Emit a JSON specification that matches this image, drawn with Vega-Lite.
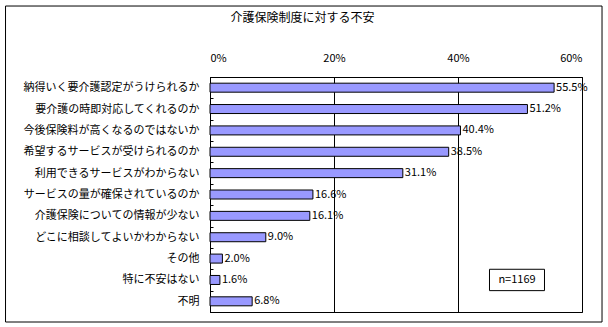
{
  "$schema": "https://vega.github.io/schema/vega-lite/v6.json",
  "width": 372,
  "height": 235,
  "padding": {"left": 5, "top": 5, "right": 6, "bottom": 6},
  "background": "white",
  "config": {
    "font": "Noto Sans CJK JP",
    "view": {"stroke": "black", "strokeWidth": 1},
    "axis": {"labelColor": "black", "labelFont": "Noto Sans CJK JP", "domainColor": "black", "tickColor": "black"}
  },
  "datasets": {
    "items": [
      {"item": "納得いく要介護認定がうけられるか", "value": 0.555},
      {"item": "要介護の時即対応してくれるのか", "value": 0.512},
      {"item": "今後保険料が高くなるのではないか", "value": 0.404},
      {"item": "希望するサービスが受けられるのか", "value": 0.385},
      {"item": "利用できるサービスがわからない", "value": 0.311},
      {"item": "サービスの量が確保されているのか", "value": 0.166},
      {"item": "介護保険についての情報が少ない", "value": 0.161},
      {"item": "どこに相談してよいかわからない", "value": 0.09},
      {"item": "その他", "value": 0.02},
      {"item": "特に不安はない", "value": 0.016},
      {"item": "不明", "value": 0.068}
    ],
    "note": [
      {"item": "特に不安はない", "x1": 0.4508, "x2": 0.5395, "xc": 0.4952, "text": "n=1169"}
    ],
    "frame": [
      {"x1": -0.3298, "x2": 0.6323, "y1": -0.0426, "y2": 1.302}
    ],
    "title": [
      {"x": 0.149, "y": 1.249, "text": "介護保険制度に対する不安"}
    ]
  },
  "resolve": {"scale": {"y": "independent"}},
  "layer": [
    {
      "layer": [
        {
          "data": {"name": "items"},
          "mark": {"type": "bar", "fill": "#9999FF", "stroke": "black", "strokeWidth": 1, "size": 9},
          "encoding": {
            "y": {
              "field": "item", "type": "nominal", "sort": null,
              "scale": {"paddingInner": 0, "paddingOuter": 0},
              "axis": {"title": null, "labelFontSize": 11, "labelPadding": 14, "tickBand": "extent", "tickSize": -3, "labelLimit": 300, "domainColor": "black"}
            },
            "x": {
              "field": "value", "type": "quantitative",
              "scale": {"domain": [0, 0.6], "nice": false},
              "axis": {"orient": "top", "title": null, "format": ".0%", "values": [0, 0.2, 0.4, 0.6], "ticks": false, "labelPadding": 14, "labelFontSize": 11, "grid": true, "gridColor": "black", "gridOpacity": 1, "domainColor": "black"}
            }
          }
        },
        {
          "data": {"name": "items"},
          "mark": {"type": "text", "align": "left", "baseline": "middle", "dx": 2, "fontSize": 11, "color": "black"},
          "encoding": {
            "y": {"field": "item", "type": "nominal", "sort": null},
            "x": {"field": "value", "type": "quantitative"},
            "text": {"field": "value", "type": "quantitative", "format": ".1%"}
          }
        },
        {
          "data": {"name": "note"},
          "mark": {"type": "rect", "fill": "white", "stroke": "black", "strokeWidth": 1},
          "encoding": {
            "y": {"field": "item", "type": "nominal", "sort": null},
            "x": {"field": "x1", "type": "quantitative"},
            "x2": {"field": "x2"}
          }
        },
        {
          "data": {"name": "note"},
          "mark": {"type": "text", "align": "center", "baseline": "middle", "fontSize": 11, "color": "black"},
          "encoding": {
            "y": {"field": "item", "type": "nominal", "sort": null},
            "x": {"field": "xc", "type": "quantitative"},
            "text": {"field": "text"}
          }
        }
      ]
    },
    {
      "layer": [
        {
          "data": {"name": "frame"},
          "mark": {"type": "rect", "fill": null, "stroke": "black", "strokeWidth": 1, "clip": false},
          "encoding": {
            "x": {"field": "x1", "type": "quantitative"},
            "x2": {"field": "x2"},
            "y": {"field": "y1", "type": "quantitative", "scale": {"domain": [0, 1], "nice": false, "zero": false}, "axis": null},
            "y2": {"field": "y2"}
          }
        },
        {
          "data": {"name": "title"},
          "mark": {"type": "text", "align": "center", "baseline": "middle", "fontSize": 12, "color": "black"},
          "encoding": {
            "x": {"field": "x", "type": "quantitative"},
            "y": {"field": "y", "type": "quantitative"},
            "text": {"field": "text"}
          }
        }
      ]
    }
  ]
}
